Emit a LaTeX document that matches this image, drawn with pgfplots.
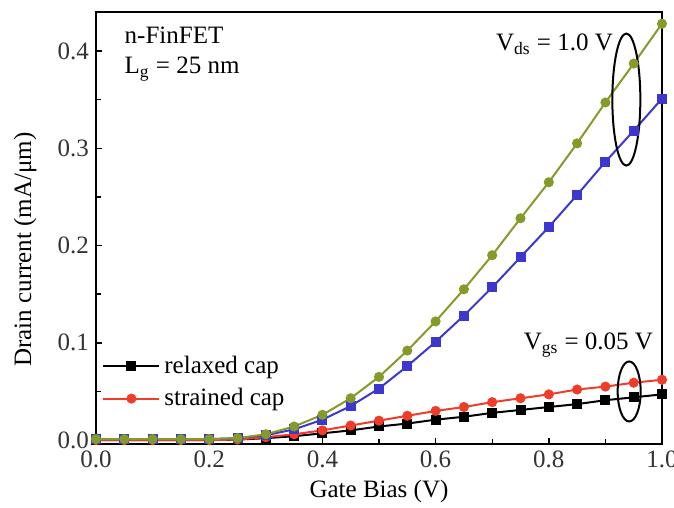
\documentclass[border=0pt]{standalone}
\usepackage{pgfplots}
\pgfplotsset{compat=1.18}
\usepackage{fontspec}
\setmainfont{Liberation Serif}
\definecolor{cgreen}{RGB}{132,155,42}
\definecolor{cblue}{RGB}{60,55,205}
\definecolor{cred}{RGB}{240,60,40}
\begin{document}
\begin{tikzpicture}
\begin{axis}[
  at={(0,0)}, anchor=south west,
  scale only axis, width=283pt, height=216pt,
  xmin=0, xmax=1.0, ymin=-0.004, ymax=0.44,
  xtick={0,0.2,0.4,0.6,0.8,1.0},
  minor xtick={0.1,0.3,0.5,0.7,0.9},
  ytick={0,0.1,0.2,0.3,0.4},
  minor ytick={0.05,0.15,0.25,0.35},
  xtick pos=left, ytick pos=left,
  tick align=inside,
  major tick length=3pt, minor tick length=2.5pt,
  every tick/.style={black, line width=0.7pt},
  axis line style={line width=1pt},
  /pgf/number format/assume math mode=true,
  /pgf/number format/fixed, /pgf/number format/fixed zerofill, /pgf/number format/precision=1,
  tick label style={font=\fontsize{12.5}{14}\selectfont, text=black!80},
  label style={font=\fontsize{12.5}{14}\selectfont},
  xlabel={Gate Bias (V)},
  ylabel={Drain current (mA/μm)},
  xlabel style={yshift=1pt},
  ylabel style={at={(axis description cs:-0.125,0.45)}, anchor=center},
  legend style={draw=none, fill=none, at={(axis cs:0.0,0.095)}, anchor=north west,
    font=\fontsize{12.5}{14}\selectfont, row sep=2pt},
  legend cell align=left,
  legend image code/.code={
    \draw[mark repeat=2,mark phase=2] plot coordinates {(0pt,0pt) (14pt,0pt) (28pt,0pt)};},
  every axis plot/.append style={line width=1pt, mark size=2pt},
  clip=false,
]
\addplot[black, mark=square*] coordinates {
(0,0) (0.05,0) (0.1,0) (0.15,0) (0.2,0) (0.25,0.0005) (0.3,0.002) (0.35,0.004) (0.4,0.007) (0.45,0.010) (0.5,0.014) (0.55,0.017) (0.6,0.021) (0.65,0.024) (0.7,0.028) (0.75,0.031) (0.8,0.034) (0.85,0.037) (0.9,0.041) (0.95,0.044) (1.0,0.047)};
\addlegendentry{relaxed cap}
\addplot[cred, mark=*] coordinates {
(0,0) (0.05,0) (0.1,0) (0.15,0) (0.2,0) (0.25,0.0006) (0.3,0.003) (0.35,0.006) (0.4,0.010) (0.45,0.015) (0.5,0.020) (0.55,0.025) (0.6,0.030) (0.65,0.034) (0.7,0.039) (0.75,0.043) (0.8,0.047) (0.85,0.052) (0.9,0.055) (0.95,0.059) (1.0,0.062)};
\addlegendentry{strained cap}
\addplot[cblue, mark=square*, forget plot] coordinates {
(0,0.001) (0.05,0.001) (0.1,0.001) (0.15,0.001) (0.2,0.001) (0.25,0.002) (0.3,0.005) (0.35,0.011) (0.4,0.021) (0.45,0.035) (0.5,0.053) (0.55,0.076) (0.6,0.101) (0.65,0.128) (0.7,0.157) (0.75,0.188) (0.8,0.219) (0.85,0.252) (0.9,0.286) (0.95,0.318) (1.0,0.351)};
\addplot[cgreen, mark=*, forget plot] coordinates {
(0,0.001) (0.05,0.001) (0.1,0.001) (0.15,0.001) (0.2,0.001) (0.25,0.002) (0.3,0.006) (0.35,0.014) (0.4,0.026) (0.45,0.043) (0.5,0.065) (0.55,0.092) (0.6,0.122) (0.65,0.155) (0.7,0.190) (0.75,0.228) (0.8,0.265) (0.85,0.305) (0.9,0.347) (0.95,0.387) (1.0,0.428)};
\draw[line width=1pt] (axis cs:0.937,0.35) ellipse [x radius=7pt, y radius=33pt];
\draw[line width=1pt] (axis cs:0.942,0.05) ellipse [x radius=5.75pt, y radius=15pt];
\node[font=\fontsize{12.5}{14}\selectfont, anchor=base] at (axis cs:0.81,0.40) {V\textsubscript{ds} = 1.0 V};
\node[font=\fontsize{12.5}{14}\selectfont, anchor=base] at (axis cs:0.87,0.093) {V\textsubscript{gs} = 0.05 V};
\node[font=\fontsize{12.5}{14}\selectfont, anchor=north west, align=left, inner sep=0pt] at (axis cs:0.05,0.425) {n-FinFET\\[1pt] L\textsubscript{g} = 25 nm};
\end{axis}
\pgfresetboundingbox
\useasboundingbox (-48pt,-32pt) rectangle (289pt,222pt);
\end{tikzpicture}
\end{document}
